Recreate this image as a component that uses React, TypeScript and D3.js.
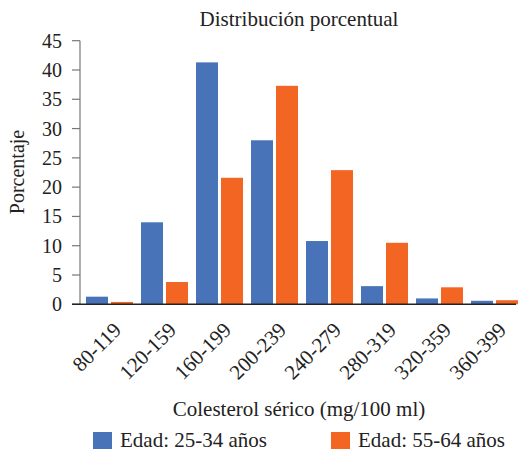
import React from "react";
import * as d3 from "d3";

const categories = ["80-119", "120-159", "160-199", "200-239", "240-279", "280-319", "320-359", "360-399"];
const seriesA = [1.3, 14.0, 41.3, 28.0, 10.8, 3.1, 1.0, 0.6];
const seriesB = [0.4, 3.8, 21.6, 37.3, 22.9, 10.5, 2.9, 0.7];
const seriesNames = ["Edad: 25-34 años", "Edad: 55-64 años"];
const yTicks = [0, 5, 10, 15, 20, 25, 30, 35, 40, 45];
const colors = ["#4873b8", "#f26522"];

const W = 521, H = 452;
const left = 82, right = 522, top = 40.7, bottom = 304.3;
const font = "Liberation Serif, Times New Roman, serif";

export default function App() {
  const x = d3.scaleBand<string>().domain(categories).range([left, right]).paddingInner(0).paddingOuter(0);
  const y = d3.scaleLinear().domain([0, 45]).range([bottom, top]);
  const inner = d3.scaleBand<number>().domain([0, 1]).range([0, x.bandwidth()]).paddingInner(0.12).paddingOuter(0.16);
  const series = [seriesA, seriesB];
  return (
    <svg width={W} height={H} style={{ position: "absolute", left: 0, top: 0 }} fontFamily={font}>
      <rect width={W} height={H} fill="#fff" />
      <text x={299} y={26} textAnchor="middle" fontSize={21} fill="#222" fontFamily={font}>Distribución porcentual</text>
      {series.map((s, si) =>
        s.map((v, i) => (
          <rect key={`${si}-${i}`} x={x(categories[i])! + inner(si)!} y={y(v)} width={inner.bandwidth()} height={bottom - y(v)} fill={colors[si]} />
        ))
      )}
      <line x1={80} x2={80} y1={top} y2={bottom} stroke="#777" strokeWidth={1.2} />
      {yTicks.map((t) => (
        <g key={t}>
          <line x1={72} x2={80} y1={y(t)} y2={y(t)} stroke="#777" strokeWidth={1.2} />
          <text x={62} y={y(t)} dy="0.35em" textAnchor="end" fontSize={20} fill="#222" fontFamily={font}>{t}</text>
        </g>
      ))}
      <line x1={72} x2={516} y1={bottom} y2={bottom} stroke="#222" strokeWidth={1.5} />
      {categories.map((c) => {
        const cx = x(c)! + x.bandwidth() / 2 + 13;
        return (
          <text key={c} transform={`translate(${cx},${bottom + 27}) rotate(-45)`} textAnchor="end" fontSize={21} fill="#222" fontFamily={font}>{c}</text>
        );
      })}
      <text transform={`translate(24,172) rotate(-90)`} textAnchor="middle" fontSize={20} fill="#222" fontFamily={font}>Porcentaje</text>
      <text x={299} y={416} textAnchor="middle" fontSize={21} fill="#222" fontFamily={font}>Colesterol sérico (mg/100 ml)</text>
      <rect x={93} y={432} width={19} height={17} fill={colors[0]} />
      <text x={120} y={447} fontSize={21} fill="#222" fontFamily={font}>{seriesNames[0]}</text>
      <rect x={331} y={432} width={19} height={17} fill={colors[1]} />
      <text x={358} y={447} fontSize={21} fill="#222" fontFamily={font}>{seriesNames[1]}</text>
    </svg>
  );
}
